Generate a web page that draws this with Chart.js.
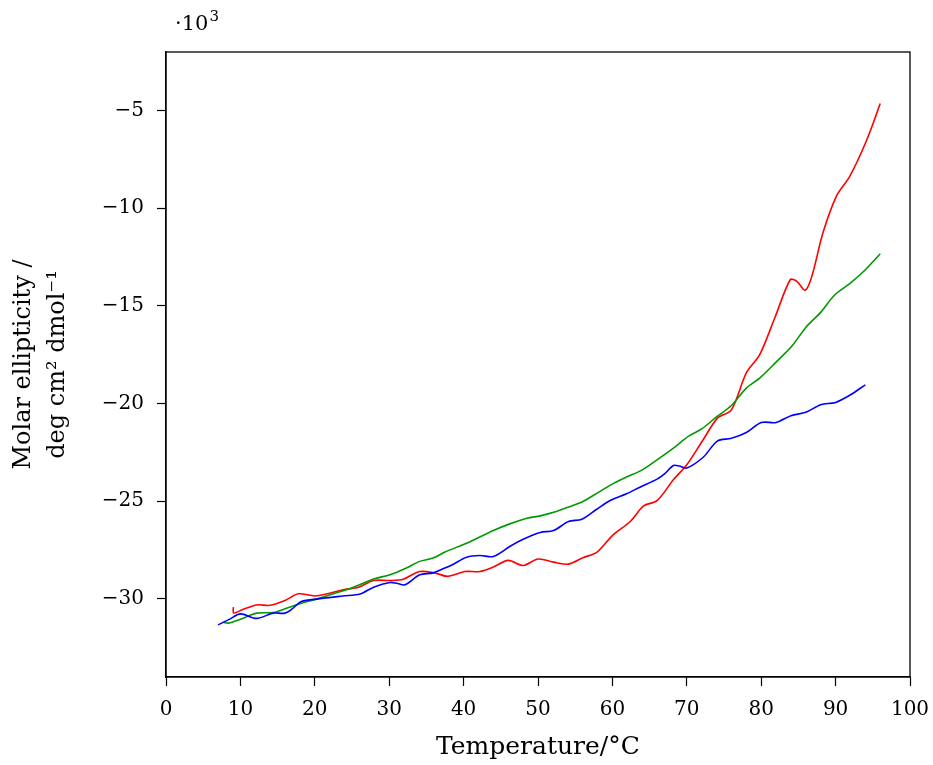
<!DOCTYPE html>
<html>
<head>
<meta charset="utf-8">
<script src="https://cdn.jsdelivr.net/npm/chart.js@4"></script>
<style>
  html, body { margin: 0; padding: 0; background: #fff; }
  #wrap { width: 933px; height: 765px; }
</style>
</head>
<body>
<div id="wrap"><canvas id="cd-melt"></canvas></div>
<script>
// temperatures (°C) and molar ellipticity (x10^3 deg cm2 dmol-1)
const tempRed = [9.05, 9.1, 10.4, 12.2, 14, 16, 17.8, 20, 22, 23.8, 25.9, 27.9, 30.1, 31.9, 34.1, 36.2, 37.9, 40.2, 42.2, 44, 46, 48, 50, 52.1, 54.1, 56.1, 57.9, 60.1, 62.4, 64.2, 66, 68.2, 70, 72.2, 74.1, 76, 78, 79.8, 81.9, 83.9, 84.8, 85.9, 86.8, 88.3, 90.1, 91.9, 94.2, 96];
const ellRed = [-30.42, -30.72, -30.53, -30.31, -30.33, -30.08, -29.74, -29.85, -29.71, -29.54, -29.4, -29.06, -29.06, -28.99, -28.6, -28.68, -28.85, -28.6, -28.6, -28.37, -28.03, -28.29, -27.96, -28.12, -28.22, -27.88, -27.62, -26.72, -26.04, -25.24, -24.97, -23.9, -23.13, -21.85, -20.76, -20.32, -18.43, -17.5, -15.54, -13.66, -13.74, -14.2, -13.49, -11.26, -9.39, -8.37, -6.49, -4.64];

const tempGreen = [7.7, 8.4, 10, 12.2, 14.4, 16.2, 18, 20.3, 22.5, 25.2, 27.9, 30.1, 32.3, 34.1, 35.9, 37.5, 40.4, 44, 46.2, 48.5, 50.3, 52.1, 54.1, 56.1, 58.1, 60.1, 61.9, 63.9, 66, 68.2, 70.2, 72, 74, 76, 78, 79.8, 82.1, 84.1, 86.1, 87.9, 89.9, 91.9, 94, 96];
const ellGreen = [-31.2, -31.24, -31.04, -30.73, -30.7, -30.48, -30.25, -30.0, -29.74, -29.4, -28.98, -28.77, -28.42, -28.08, -27.91, -27.6, -27.15, -26.5, -26.16, -25.87, -25.75, -25.57, -25.3, -25.0, -24.55, -24.1, -23.76, -23.42, -22.88, -22.28, -21.68, -21.3, -20.68, -20.1, -19.21, -18.7, -17.84, -17.07, -16.05, -15.37, -14.43, -13.86, -13.15, -12.33];

const tempBlue = [7, 8.5, 10, 12.2, 14.4, 16, 17, 18.2, 20.5, 23.8, 26.1, 27.9, 30.1, 31, 32.1, 34.1, 35.9, 37, 38.5, 40.4, 42.2, 44, 46.2, 48, 50.3, 52.1, 54.1, 55.9, 57.9, 59.7, 61.9, 63.7, 66, 67, 68.2, 69, 70, 72.2, 74.1, 76, 78, 80, 82, 84, 86, 88, 90, 92, 94];
const ellBlue = [-31.33, -31.05, -30.77, -31.0, -30.73, -30.73, -30.5, -30.13, -30.0, -29.85, -29.75, -29.4, -29.16, -29.2, -29.28, -28.77, -28.67, -28.5, -28.25, -27.87, -27.78, -27.83, -27.32, -26.95, -26.6, -26.5, -26.04, -25.92, -25.41, -24.96, -24.62, -24.28, -23.87, -23.6, -23.17, -23.2, -23.3, -22.75, -21.92, -21.78, -21.48, -20.97, -20.97, -20.62, -20.45, -20.06, -19.94, -19.55, -19.04];

const xTicks = [0, 10, 20, 30, 40, 50, 60, 70, 80, 90, 100];
const yTicks = [-30, -25, -20, -15, -10, -5];

const pts = (xs, ys) => xs.map((x, i) => ({ x: x, y: ys[i] }));
const FONT = 'DejaVu Serif';

const framePlugin = {
  id: 'frame',
  afterDraw(chart) {
    const { ctx, chartArea: a } = chart;
    ctx.save();
    ctx.strokeStyle = '#000';
    ctx.lineWidth = 1.3;
    ctx.strokeRect(a.left, a.top, a.right - a.left, a.bottom - a.top);
    // scale factor label above the y axis
    ctx.fillStyle = '#000';
    ctx.textBaseline = 'alphabetic';
    ctx.textAlign = 'left';
    ctx.font = '21px "' + FONT + '"';
    const base = '·10';
    ctx.fillText(base, a.left + 9, 30);
    const w = ctx.measureText(base).width;
    ctx.font = '15px "' + FONT + '"';
    ctx.fillText('3', a.left + 10 + w, 21);
    ctx.restore();
  }
};

const line = (label, data, color) => ({
  label: label,
  data: data,
  borderColor: color,
  borderWidth: 1.6,
  pointRadius: 0,
  tension: 0.3,
  fill: false
});

new Chart(document.getElementById('cd-melt').getContext('2d'), {
  type: 'line',
  data: {
    datasets: [
      line('blue', pts(tempBlue, ellBlue), '#0000ff'),
      line('green', pts(tempGreen, ellGreen), '#009900'),
      line('red', pts(tempRed, ellRed), '#ff0000')
    ]
  },
  options: {
    responsive: true,
    maintainAspectRatio: false,
    animation: false,
    layout: { padding: { top: 52, right: 23, left: 0, bottom: 0 } },
    plugins: { legend: { display: false }, tooltip: { enabled: false } },
    scales: {
      x: {
        type: 'linear',
        min: 0,
        max: 100,
        afterBuildTicks: axis => { axis.ticks = xTicks.map(v => ({ value: v })); },
        afterFit: axis => { axis.height = 88; axis.paddingLeft = 0; axis.paddingRight = 0; },
        grid: { drawOnChartArea: false, drawTicks: true, tickLength: 9, tickColor: '#000', tickWidth: 1.2 },
        border: { display: true, color: '#000', width: 1.3 },
        ticks: { color: '#000', font: { family: FONT, size: 20 }, padding: 12, maxRotation: 0 },
        title: {
          display: true,
          text: 'Temperature/°C',
          color: '#000',
          font: { family: FONT, size: 25 },
          padding: { top: 0, bottom: 3 }
        }
      },
      y: {
        type: 'linear',
        min: -34,
        max: -2,
        afterBuildTicks: axis => { axis.ticks = yTicks.map(v => ({ value: v })); },
        afterFit: axis => { axis.width = 166; axis.paddingTop = 0; axis.paddingBottom = 0; },
        grid: { drawOnChartArea: false, drawTicks: true, tickLength: 9, tickColor: '#000', tickWidth: 1.2 },
        border: { display: true, color: '#000', width: 1.3 },
        ticks: {
          color: '#000',
          font: { family: FONT, size: 20 },
          padding: 13,
          callback: v => (v < 0 ? '\u2212' + Math.abs(v) : String(v))
        },
        title: {
          display: true,
          text: ['Molar ellipticity /', 'deg cm² dmol⁻¹'],
          color: '#000',
          font: { family: FONT, size: 24, lineHeight: 1.4 },
          padding: { top: 7, bottom: 0 }
        }
      }
    }
  },
  plugins: [framePlugin]
});
</script>
</body>
</html>
